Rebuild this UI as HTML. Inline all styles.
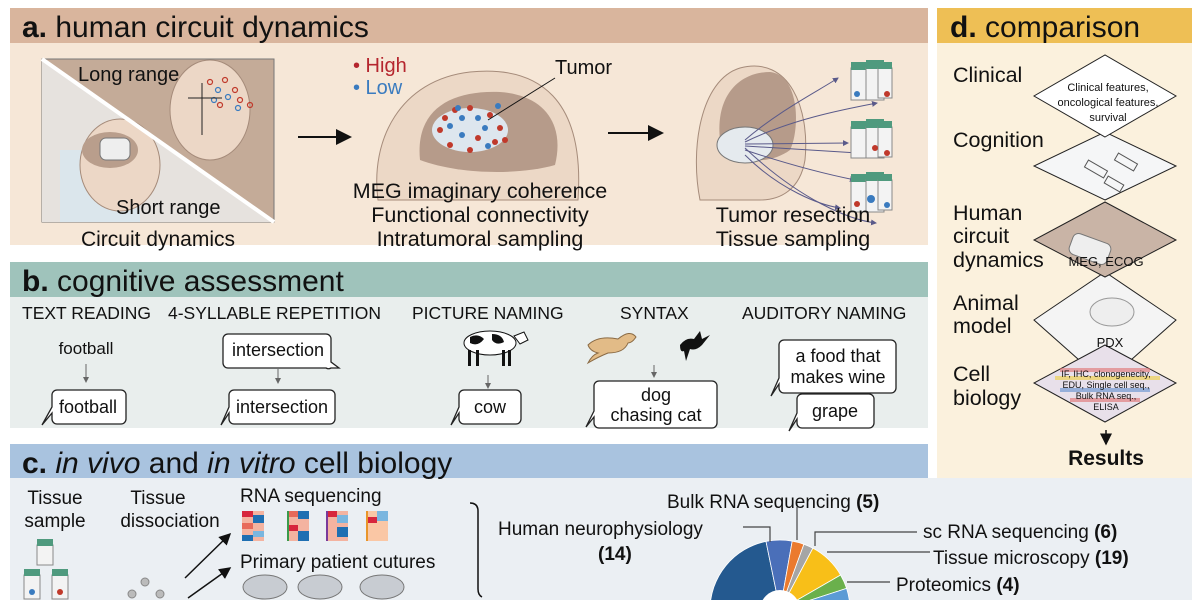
<!DOCTYPE html>
<html><head><meta charset="utf-8"><style>
html,body{margin:0;padding:0;background:#fff;width:1200px;height:600px;overflow:hidden;}
svg{display:block;font-family:"Liberation Sans",sans-serif;}
</style></head><body>
<svg width="1200" height="600" viewBox="0 0 1200 600" xmlns="http://www.w3.org/2000/svg">
<defs>
<marker id="ah" markerWidth="8" markerHeight="8" refX="7" refY="4" orient="auto"><path d="M0,0 L8,4 L0,8 z" fill="#111"/></marker>
<marker id="ahg" markerWidth="6" markerHeight="6" refX="5" refY="3" orient="auto"><path d="M0,0 L6,3 L0,6 z" fill="#666"/></marker>
<marker id="ahb" markerWidth="6" markerHeight="6" refX="5" refY="3" orient="auto"><path d="M0,0 L6,3 L0,6 z" fill="#5a5a8a"/></marker>
<clipPath id="pc"><rect x="-90" y="-80" width="180" height="70"/></clipPath>
</defs>
<rect width="1200" height="600" fill="#fff"/>

<!-- Panel a -->
<rect x="10" y="8" width="918" height="35" fill="#d9b59d"/>
<rect x="10" y="43" width="918" height="202" fill="#f6e7d7"/>
<text x="22" y="37" font-size="30" fill="#111"><tspan font-weight="bold">a.</tspan> human circuit dynamics</text>

<rect x="42" y="59" width="232" height="163" fill="#c4ab98" stroke="#777" stroke-width="1"/>
<polygon points="42,59 274,222 42,222" fill="#e6e2de"/>
<rect x="60" y="150" width="80" height="72" fill="#dbe6ec"/>
<ellipse cx="210" cy="110" rx="40" ry="50" fill="#ecd7c6" stroke="#a58b7a"/>
<ellipse cx="120" cy="165" rx="40" ry="46" fill="#ecd7c6" stroke="#a58b7a"/>
<ellipse cx="110" cy="150" rx="28" ry="18" fill="#b99e8c"/>
<rect x="100" y="138" width="30" height="22" rx="6" fill="#eee" stroke="#777"/>
<line x1="42" y1="59" x2="274" y2="222" stroke="#fff" stroke-width="4"/>
<g fill="none" stroke="#c0392b" stroke-width="1.2"><circle cx="210" cy="82" r="2.5"/><circle cx="225" cy="80" r="2.5"/><circle cx="235" cy="90" r="2.5"/><circle cx="240" cy="100" r="2.5"/><circle cx="250" cy="105" r="2.5"/><circle cx="220" cy="105" r="2.5"/></g>
<g fill="none" stroke="#3a7bbf" stroke-width="1.2"><circle cx="218" cy="90" r="2.5"/><circle cx="228" cy="97" r="2.5"/><circle cx="238" cy="108" r="2.5"/><circle cx="214" cy="100" r="2.5"/></g>
<line x1="188" y1="98" x2="222" y2="98" stroke="#222"/><line x1="202" y1="83" x2="202" y2="135" stroke="#222"/>
<text x="78" y="81" font-size="20" fill="#111">Long range</text>
<text x="116" y="214" font-size="20" fill="#111">Short range</text>
<text x="158" y="246" font-size="21" fill="#111" text-anchor="middle">Circuit dynamics</text>

<line x1="298" y1="137" x2="350" y2="137" stroke="#111" stroke-width="2" marker-end="url(#ah)"/>

<path d="M378,200 C370,140 400,80 470,72 C540,65 585,100 578,200 Z" fill="#ecd8c6" stroke="#a58b7a"/>
<path d="M420,160 C415,110 450,90 500,92 C545,95 565,125 555,165 C520,175 460,175 420,160 Z" fill="#b69b8a"/>
<ellipse cx="470" cy="130" rx="38" ry="22" fill="#dde6ee"/>
<g fill="#c0392b"><circle cx="445" cy="118" r="3"/><circle cx="455" cy="110" r="3"/><circle cx="470" cy="108" r="3"/><circle cx="490" cy="115" r="3"/><circle cx="500" cy="128" r="3"/><circle cx="495" cy="142" r="3"/><circle cx="470" cy="150" r="3"/><circle cx="450" cy="145" r="3"/><circle cx="440" cy="130" r="3"/><circle cx="478" cy="138" r="3"/><circle cx="505" cy="140" r="3"/></g>
<g fill="#3a7bbf"><circle cx="450" cy="126" r="3"/><circle cx="462" cy="118" r="3"/><circle cx="478" cy="118" r="3"/><circle cx="485" cy="128" r="3"/><circle cx="462" cy="135" r="3"/><circle cx="488" cy="146" r="3"/><circle cx="458" cy="108" r="3"/><circle cx="498" cy="106" r="3"/></g>
<line x1="488" y1="120" x2="555" y2="78" stroke="#111"/>
<text x="353" y="72" font-size="20" fill="#b5262e">• High</text>
<text x="353" y="94" font-size="20" fill="#3a7bbf">• Low</text>
<text x="555" y="74" font-size="20" fill="#111">Tumor</text>
<g font-size="21.5" fill="#111" text-anchor="middle"><text x="480" y="198">MEG imaginary coherence</text><text x="480" y="222">Functional connectivity</text><text x="480" y="246">Intratumoral sampling</text></g>

<line x1="608" y1="133" x2="662" y2="133" stroke="#111" stroke-width="2" marker-end="url(#ah)"/>

<path d="M700,200 C690,150 700,80 740,68 C790,55 810,110 805,160 C800,190 780,200 760,200 Z" fill="#ecd8c6" stroke="#a58b7a"/>
<path d="M720,140 C715,95 740,72 770,72 C800,75 800,130 790,150 C770,165 735,165 720,140 Z" fill="#b69b8a"/>
<ellipse cx="745" cy="145" rx="28" ry="18" fill="#e5eaee" stroke="#777"/>
<g stroke="#5a5a8a" stroke-width="1" fill="none" marker-end="url(#ahb)">
<path d="M745,140 C780,110 820,90 838,78"/><path d="M745,142 C790,120 840,110 877,103"/><path d="M745,144 L848,143"/><path d="M745,146 L858,153"/><path d="M745,150 C790,165 830,175 855,180"/><path d="M745,155 C780,190 820,205 840,208"/><path d="M745,148 C800,200 850,220 876,223"/>
</g>
<g>
<rect x="851" y="68" width="18" height="32" fill="#f3f3f3" stroke="#888"/><rect x="851" y="62" width="18" height="8" fill="#4f9a7e"/>
<rect x="866" y="68" width="18" height="32" fill="#f3f3f3" stroke="#888"/><rect x="866" y="60" width="18" height="9" fill="#4f9a7e"/>
<rect x="878" y="68" width="14" height="30" fill="#f3f3f3" stroke="#888"/><rect x="878" y="62" width="14" height="7" fill="#4f9a7e"/>
<circle cx="857" cy="94" r="3" fill="#3a7bbf"/><circle cx="887" cy="94" r="3" fill="#c0392b"/>
<rect x="851" y="127" width="18" height="31" fill="#f3f3f3" stroke="#888"/><rect x="851" y="121" width="18" height="8" fill="#4f9a7e"/>
<rect x="866" y="127" width="18" height="31" fill="#f3f3f3" stroke="#888"/><rect x="866" y="119" width="18" height="9" fill="#4f9a7e"/>
<rect x="878" y="127" width="14" height="30" fill="#f3f3f3" stroke="#888"/><rect x="878" y="121" width="14" height="7" fill="#4f9a7e"/>
<circle cx="875" cy="148" r="3" fill="#c0392b"/><circle cx="887" cy="153" r="3" fill="#c0392b"/>
<rect x="851" y="180" width="18" height="32" fill="#f3f3f3" stroke="#888"/><rect x="851" y="174" width="18" height="8" fill="#4f9a7e"/>
<rect x="866" y="180" width="18" height="32" fill="#f3f3f3" stroke="#888"/><rect x="866" y="172" width="18" height="9" fill="#4f9a7e"/>
<rect x="878" y="180" width="14" height="30" fill="#f3f3f3" stroke="#888"/><rect x="878" y="174" width="14" height="7" fill="#4f9a7e"/>
<circle cx="857" cy="204" r="3" fill="#c0392b"/><circle cx="871" cy="199" r="4" fill="#3a7bbf"/><circle cx="887" cy="205" r="3" fill="#3a7bbf"/>
</g>
<g font-size="21.5" fill="#111" text-anchor="middle"><text x="793" y="222">Tumor resection</text><text x="793" y="246">Tissue sampling</text></g>

<!-- Panel b -->
<rect x="10" y="262" width="918" height="35" fill="#9fc3bb"/>
<rect x="10" y="297" width="918" height="131" fill="#e9eeed"/>
<text x="22" y="291" font-size="30" fill="#111"><tspan font-weight="bold">b.</tspan> cognitive assessment</text>
<g font-size="17.5" fill="#111"><text x="22" y="319">TEXT READING</text><text x="168" y="319">4-SYLLABLE REPETITION</text><text x="412" y="319">PICTURE NAMING</text><text x="620" y="319">SYNTAX</text><text x="742" y="319">AUDITORY NAMING</text></g>
<g stroke="#666" stroke-width="1" marker-end="url(#ahg)">
<line x1="86" y1="364" x2="86" y2="382"/><line x1="278" y1="369" x2="278" y2="383"/><line x1="488" y1="375" x2="488" y2="388"/><line x1="654" y1="365" x2="654" y2="377"/><line x1="835" y1="398" x2="835" y2="408"/>
</g>
<text x="86" y="354" font-size="17" fill="#111" text-anchor="middle">football</text>
<g fill="#fff" stroke="#222" stroke-width="1.3">
<path d="M57,390 h64 a5,5 0 0 1 5,5 v24 a5,5 0 0 1 -5,5 h-64 a5,5 0 0 1 -5,-5 v-6 l-10,12 l10,-18 v-12 a5,5 0 0 1 5,-5 z"/>
<path d="M228,334 h98 a5,5 0 0 1 5,5 v23 l8,6 h-8 a5,5 0 0 1 -5,0 h-98 a5,5 0 0 1 -5,-5 v-24 a5,5 0 0 1 5,-5 z"/>
<path d="M234,390 h96 a5,5 0 0 1 5,5 v24 a5,5 0 0 1 -5,5 h-96 a5,5 0 0 1 -5,-5 v-6 l-8,12 l8,-18 v-12 a5,5 0 0 1 5,-5 z"/>
<path d="M464,390 h52 a5,5 0 0 1 5,5 v24 a5,5 0 0 1 -5,5 h-52 a5,5 0 0 1 -5,-5 v-6 l-8,12 l8,-18 v-12 a5,5 0 0 1 5,-5 z"/>
<path d="M599,381 h113 a5,5 0 0 1 5,5 v37 a5,5 0 0 1 -5,5 h-113 a5,5 0 0 1 -5,-5 v-6 l-8,10 l8,-16 v-25 a5,5 0 0 1 5,-5 z"/>
<path d="M784,340 h107 a5,5 0 0 1 5,5 v43 a5,5 0 0 1 -5,5 h-107 a5,5 0 0 1 -5,-5 v-4 l-8,12 l8,-18 v-33 a5,5 0 0 1 5,-5 z"/>
<path d="M802,394 h67 a5,5 0 0 1 5,5 v24 a5,5 0 0 1 -5,5 h-67 a5,5 0 0 1 -5,-5 v-4 l-8,12 l8,-18 v-14 a5,5 0 0 1 5,-5 z"/>
</g>
<g font-size="18" fill="#111" text-anchor="middle">
<text x="88" y="413">football</text><text x="278" y="356">intersection</text><text x="282" y="413">intersection</text><text x="490" y="413">cow</text>
<text x="656" y="401">dog</text><text x="656" y="421">chasing cat</text>
<text x="838" y="362">a food that</text><text x="838" y="383">makes wine</text><text x="835" y="417">grape</text></g>
<g><ellipse cx="490" cy="343" rx="26" ry="12" fill="#fff" stroke="#111"/><path d="M470,337 q8,-4 14,2 q-6,8 -14,4z M492,334 q10,0 12,8 q-8,4 -12,-2z" fill="#111"/><rect x="468" y="350" width="3" height="16" fill="#111"/><rect x="476" y="350" width="3" height="16" fill="#111"/><rect x="502" y="350" width="3" height="16" fill="#111"/><rect x="508" y="350" width="3" height="16" fill="#111"/><path d="M514,336 l10,-4 l4,8 l-8,4z" fill="#fff" stroke="#111"/></g>
<g><path d="M588,345 q10,-10 30,-6 q12,-10 18,-2 q-4,6 -8,6 q-4,10 -20,10 q-10,4 -20,10 q4,-8 10,-10 q-8,-2 -10,-8z" fill="#e2bb87" stroke="#8a6a44"/><path d="M680,345 q6,-8 14,-6 l6,-8 l2,8 l8,-4 l-8,10 q-6,6 -12,4 l-4,12 l-2,-10 q-4,2 -4,-6z" fill="#111"/></g>

<!-- Panel d -->
<rect x="937" y="8" width="255" height="35" fill="#eebf55"/>
<rect x="937" y="43" width="255" height="435" fill="#fbf1dd"/>
<text x="950" y="37" font-size="30" fill="#111"><tspan font-weight="bold">d.</tspan> comparison</text>
<g font-size="21.5" fill="#111">
<text x="953" y="82">Clinical</text><text x="953" y="147">Cognition</text>
<text x="953" y="220">Human</text><text x="953" y="243">circuit</text><text x="953" y="267">dynamics</text>
<text x="953" y="310">Animal</text><text x="953" y="333">model</text>
<text x="953" y="381">Cell</text><text x="953" y="405">biology</text></g>
<polygon points="1105,383 1176,320 1105,272 1034,320" fill="#f4f4f4" stroke="#222"/>
<polygon points="1105,422 1176,383 1105,345 1034,383" fill="#e8e0ea" stroke="#222"/>
<g stroke-width="4" opacity="0.6"><line x1="1060" y1="370" x2="1150" y2="370" stroke="#e07070"/><line x1="1055" y1="378" x2="1160" y2="378" stroke="#f0d040"/><line x1="1060" y1="390" x2="1150" y2="390" stroke="#6090d0"/><line x1="1070" y1="400" x2="1140" y2="400" stroke="#e07070"/></g>
<polygon points="1105,277 1176,240 1105,202 1034,240" fill="#c9b4a6" stroke="#222"/>
<rect x="1070" y="238" width="40" height="22" rx="6" fill="#eee" stroke="#777" transform="rotate(20 1090 249)"/>
<polygon points="1105,200 1176,166 1105,132 1034,166" fill="#f5f6f7" stroke="#222"/>
<g stroke="#555" stroke-width="1" fill="none"><rect x="1085" y="165" width="22" height="8" transform="rotate(30 1096 169)"/><rect x="1115" y="158" width="22" height="8" transform="rotate(30 1126 162)"/><rect x="1105" y="180" width="18" height="8" transform="rotate(30 1114 184)"/></g>
<polygon points="1105,137 1176,96 1105,55 1034,96" fill="#fff" stroke="#222"/>
<ellipse cx="1112" cy="312" rx="22" ry="14" fill="#eee" stroke="#999"/>
<g font-size="11" fill="#111" text-anchor="middle">
<text x="1108" y="91">Clinical features,</text><text x="1108" y="106">oncological features,</text><text x="1108" y="121">survival</text>
<text x="1106" y="266" font-size="13">MEG, ECOG</text>
<text x="1110" y="347" font-size="13">PDX</text>
<text x="1106" y="377" font-size="9">IF, IHC, clonogenecity,</text><text x="1106" y="388" font-size="9">EDU, Single cell seq.,</text><text x="1106" y="399" font-size="9">Bulk RNA seq.,</text><text x="1106" y="410" font-size="9">ELISA</text></g>
<line x1="1106" y1="430" x2="1106" y2="444" stroke="#111" stroke-width="1.5" marker-end="url(#ah)"/>
<text x="1106" y="465" font-size="21" font-weight="bold" text-anchor="middle" fill="#111">Results</text>

<!-- Panel c -->
<rect x="10" y="444" width="918" height="34" fill="#a9c3df"/>
<rect x="10" y="478" width="1182" height="122" fill="#ebeff3"/>
<text x="22" y="473" font-size="30" fill="#111"><tspan font-weight="bold">c.</tspan> <tspan font-style="italic">in vivo</tspan> and <tspan font-style="italic">in vitro</tspan> cell biology</text>
<g font-size="19" fill="#111">
<text x="55" y="504" text-anchor="middle">Tissue</text><text x="55" y="527" text-anchor="middle">sample</text>
<text x="158" y="504" text-anchor="middle">Tissue</text><text x="170" y="527" text-anchor="middle">dissociation</text>
<text x="240" y="502">RNA sequencing</text><text x="240" y="568">Primary patient cutures</text></g>
<g>
<rect x="37" y="545" width="16" height="20" fill="#f3f3f3" stroke="#888"/><rect x="37" y="539" width="16" height="7" fill="#4f9a7e"/>
<rect x="24" y="575" width="16" height="24" fill="#f3f3f3" stroke="#888"/><rect x="24" y="569" width="16" height="7" fill="#4f9a7e"/><circle cx="32" cy="592" r="3" fill="#3a7bbf"/>
<rect x="52" y="575" width="16" height="24" fill="#f3f3f3" stroke="#888"/><rect x="52" y="569" width="16" height="7" fill="#4f9a7e"/><circle cx="60" cy="592" r="3" fill="#c0392b"/>
<circle cx="145" cy="582" r="4" fill="#bbb" stroke="#888"/><circle cx="132" cy="594" r="4" fill="#bbb" stroke="#888"/><circle cx="160" cy="594" r="4" fill="#bbb" stroke="#888"/>
</g>
<line x1="185" y1="578" x2="230" y2="534" stroke="#111" stroke-width="1.5" marker-end="url(#ah)"/>
<line x1="188" y1="598" x2="230" y2="568" stroke="#111" stroke-width="1.5" marker-end="url(#ah)"/>
<g>
<g transform="translate(242,511)"><rect width="22" height="30" fill="#f4b3a0"/><rect width="11" height="6" fill="#d7263d"/><rect x="11" y="4" width="11" height="8" fill="#1f6fb2"/><rect y="12" width="11" height="6" fill="#e86a5a"/><rect x="11" y="20" width="11" height="6" fill="#7ab6df"/><rect y="24" width="11" height="6" fill="#1f6fb2"/></g>
<g transform="translate(287,511)"><rect width="22" height="30" fill="#f4b3a0"/><rect width="2" height="30" fill="#3a9a4a"/><rect x="2" width="9" height="6" fill="#e86a5a"/><rect x="11" y="0" width="11" height="8" fill="#1f6fb2"/><rect x="2" y="14" width="9" height="6" fill="#d7263d"/><rect x="11" y="20" width="11" height="10" fill="#1f6fb2"/></g>
<g transform="translate(326,511)"><rect width="22" height="30" fill="#f4b3a0"/><rect width="2" height="30" fill="#7a3a9a"/><rect x="2" width="9" height="6" fill="#d7263d"/><rect x="11" y="4" width="11" height="8" fill="#7ab6df"/><rect x="11" y="16" width="11" height="10" fill="#1f6fb2"/></g>
<g transform="translate(366,511)"><rect width="22" height="30" fill="#fac7a5"/><rect width="2" height="30" fill="#e8952a"/><rect x="2" y="6" width="9" height="6" fill="#d7263d"/><rect x="11" y="0" width="11" height="10" fill="#7ab6df"/></g>
<ellipse cx="265" cy="587" rx="22" ry="12" fill="#c8ccd2" stroke="#777"/><ellipse cx="320" cy="587" rx="22" ry="12" fill="#c8ccd2" stroke="#777"/><ellipse cx="382" cy="587" rx="22" ry="12" fill="#c8ccd2" stroke="#777"/>
</g>
<path d="M470,503 q8,0 8,8 v78 q0,6 4,8" fill="none" stroke="#111" stroke-width="1.5"/>

<g transform="translate(780,610)">
<g clip-path="url(#pc)" stroke="#fff" stroke-width="0.8">
<path d="M0,0 L-14,-68.6 A70,70 0 0 0 -70,0 Z" fill="#24598f"/>
<path d="M0,0 L-14,-68.6 A70,70 0 0 1 12.2,-68.9 Z" fill="#4a6fb9"/>
<path d="M0,0 L12.2,-68.9 A70,70 0 0 1 23.9,-65.8 Z" fill="#eb7a2e"/>
<path d="M0,0 L23.9,-65.8 A70,70 0 0 1 32.9,-61.8 Z" fill="#a5a5a5"/>
<path d="M0,0 L32.9,-61.8 A70,70 0 0 1 60.6,-35 Z" fill="#f8bf18"/>
<path d="M0,0 L60.6,-35 A70,70 0 0 1 66.6,-21.6 Z" fill="#6ab04c"/>
<path d="M0,0 L66.6,-21.6 A70,70 0 0 1 70,0 Z" fill="#5b9bd5"/>
<circle r="20" fill="#fff" stroke="none"/>
</g>
</g>
<g stroke="#444" stroke-width="1.2" fill="none">
<polyline points="743,527 770,527 770,542"/><line x1="797" y1="507" x2="797" y2="540"/>
<polyline points="917,532 815,532 815,546"/><line x1="827" y1="552" x2="930" y2="552"/><line x1="847" y1="582" x2="890" y2="582"/>
</g>
<g font-size="19" fill="#111">
<text x="667" y="508">Bulk RNA sequencing <tspan font-weight="bold">(5)</tspan></text>
<text x="498" y="535">Human neurophysiology</text><text x="598" y="560" font-weight="bold">(14)</text>
<text x="923" y="538">sc RNA sequencing <tspan font-weight="bold">(6)</tspan></text>
<text x="933" y="564">Tissue microscopy <tspan font-weight="bold">(19)</tspan></text>
<text x="896" y="591">Proteomics <tspan font-weight="bold">(4)</tspan></text>
</g>
</svg>
</body></html>
